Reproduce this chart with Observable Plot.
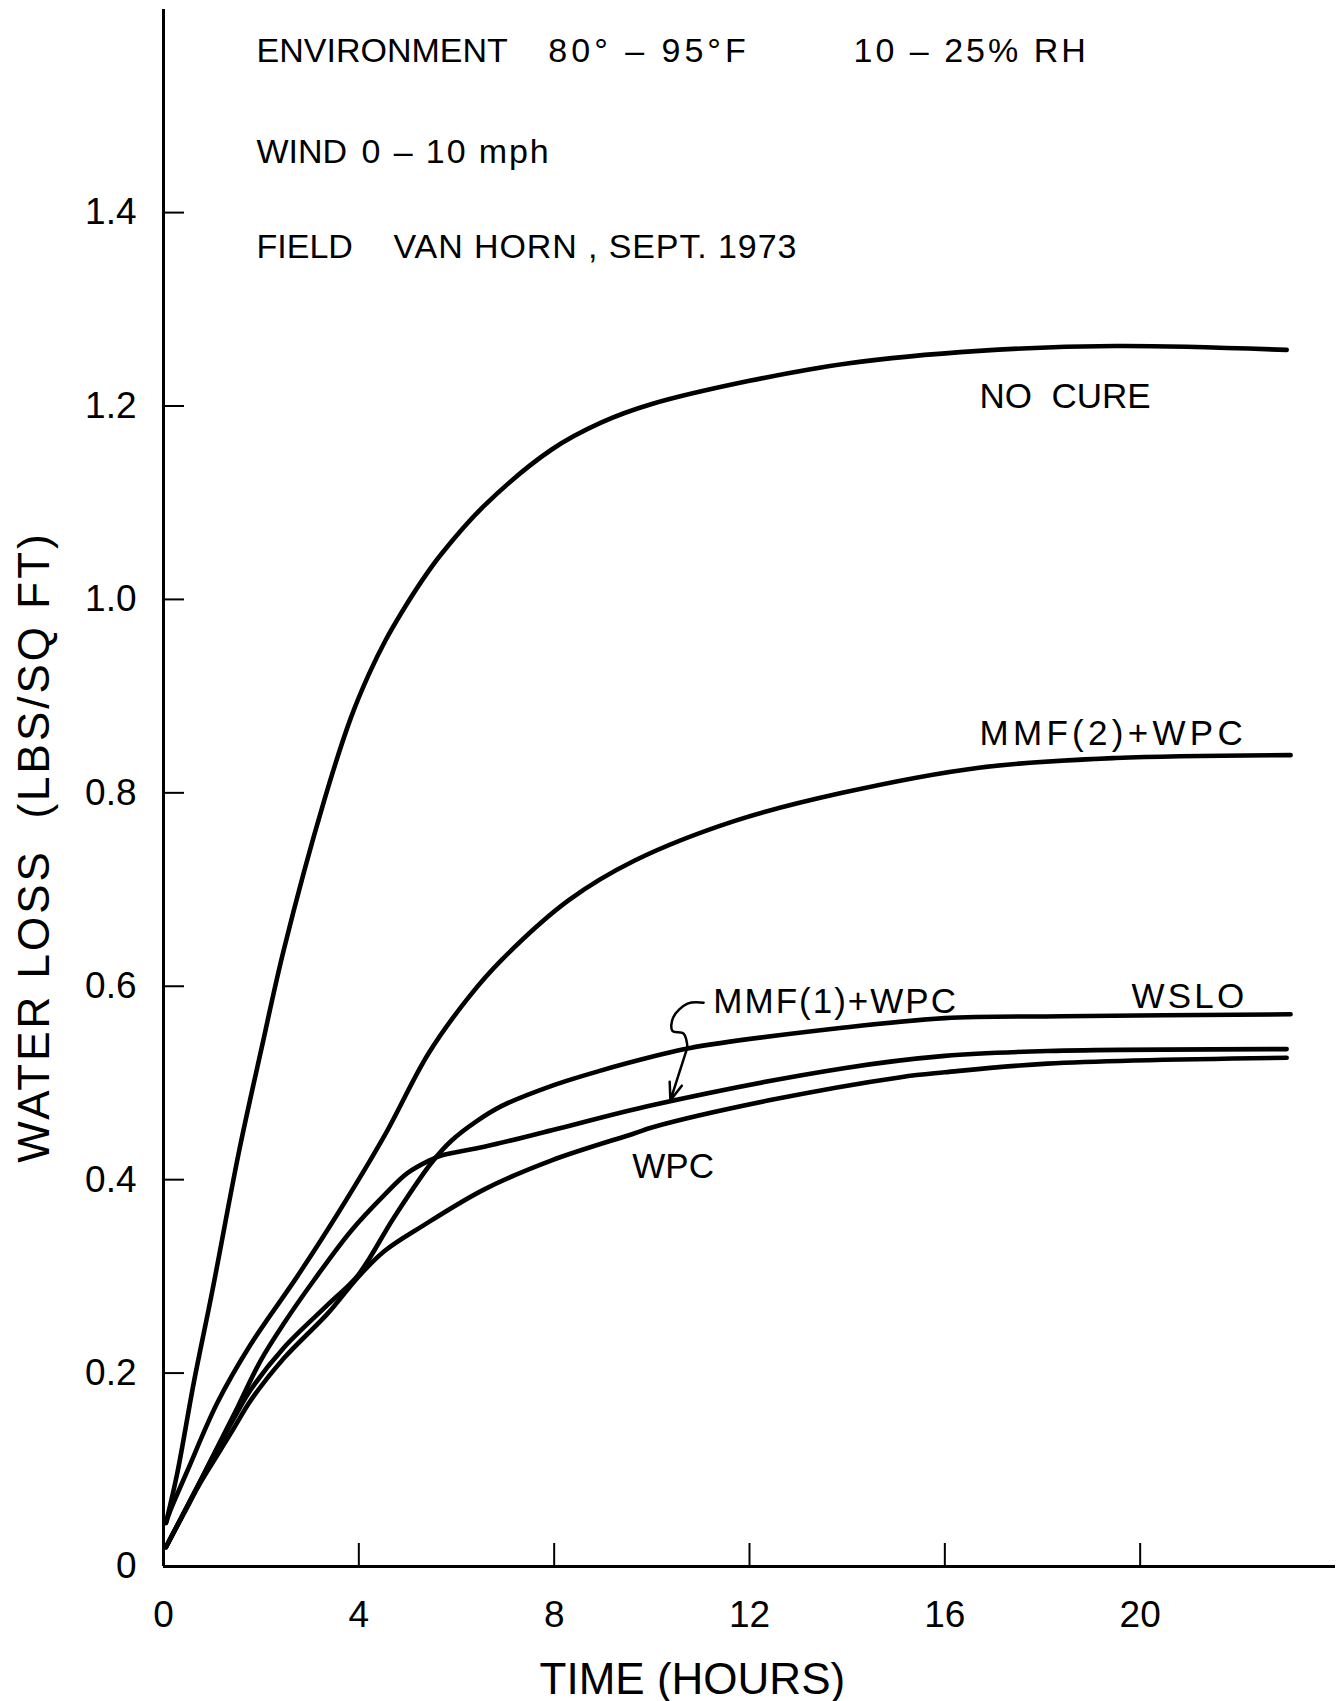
<!DOCTYPE html>
<html>
<head>
<meta charset="utf-8">
<script src="https://cdn.jsdelivr.net/npm/d3@7"></script>
<script src="https://cdn.jsdelivr.net/npm/@observablehq/plot@0.6"></script>
<style>
  html, body { margin: 0; padding: 0; background: #fff; overflow: hidden; }
  #chart svg { display: block; }
</style>
</head>
<body>
<div id="chart"></div>
<script>
// ---------- data ----------
const xTicks = [0, 4, 8, 12, 16, 20];
const yTicks = [0, 0.2, 0.4, 0.6, 0.8, 1.0, 1.2, 1.4];

const seriesNames = ["NO CURE", "MMF(2)+WPC", "MMF(1)+WPC", "WSLO", "WPC"];

const timeNoCure = [0.05, 0.28, 0.62, 1.0, 1.55, 2.0, 2.46, 3.29, 3.84, 4.2, 4.55, 4.87, 5.3, 5.69, 6.57, 7.95, 8.97, 10.0, 12.0, 14.0, 16.7, 19.5, 23.0];
const lossNoCure = [0.045, 0.096, 0.19, 0.285, 0.43, 0.534, 0.637, 0.792, 0.878, 0.922, 0.958, 0.986, 1.02, 1.047, 1.097, 1.155, 1.183, 1.202, 1.226, 1.244, 1.257, 1.262, 1.258];

const timeMMF2 = [0.05, 0.14, 0.49, 1.1, 1.79, 2.74, 3.57, 4.52, 5.42, 6.24, 6.92, 8.3, 9.65, 11.7, 13.9, 16.7, 19.5, 23.08];
const lossMMF2 = [0.045, 0.058, 0.099, 0.169, 0.23, 0.30, 0.365, 0.445, 0.53, 0.588, 0.627, 0.689, 0.73, 0.771, 0.800, 0.826, 0.836, 0.839];

const timeMMF1 = [0.05, 0.41, 0.76, 1.1, 1.52, 1.99, 2.46, 3.08, 3.84, 4.52, 5.0, 5.45, 5.69, 6.57, 7.95, 10.0, 13.9, 16.0, 18.1, 23.0];
const lossMMF1 = [0.02, 0.055, 0.089, 0.123, 0.165, 0.213, 0.251, 0.296, 0.347, 0.384, 0.407, 0.42, 0.425, 0.434, 0.451, 0.477, 0.515, 0.528, 0.533, 0.535];

const timeWSLO = [0.05, 0.41, 0.76, 1.1, 1.44, 1.79, 2.46, 3.37, 3.98, 4.72, 5.48, 5.89, 6.4, 6.92, 7.95, 8.97, 10.0, 10.76, 13.9, 16.0, 18.4, 23.08];
const lossWSLO = [0.02, 0.055, 0.089, 0.122, 0.153, 0.183, 0.226, 0.271, 0.301, 0.361, 0.417, 0.440, 0.46, 0.476, 0.497, 0.513, 0.527, 0.536, 0.557, 0.567, 0.569, 0.571];

const timeWPC = [0.05, 0.41, 0.76, 1.1, 1.44, 1.79, 2.46, 3.37, 3.98, 4.52, 5.3, 6.57, 7.95, 9.65, 10.0, 12.4, 15.1, 16.0, 18.1, 23.0];
const lossWPC = [0.02, 0.054, 0.087, 0.115, 0.143, 0.172, 0.215, 0.262, 0.299, 0.326, 0.352, 0.390, 0.42, 0.448, 0.454, 0.482, 0.506, 0.511, 0.52, 0.526];

// curve labels
const labelText = ["NO  CURE", "MMF(2)+WPC", "MMF(1)+WPC", "WSLO", "WPC"];
const labelTime = [16.71, 16.71, 11.26, 19.82, 9.6];
const labelLoss = [1.1975, 0.849, 0.572, 0.578, 0.402];

// header notes
const noteText = ["ENVIRONMENT", "80° – 95°F", "10 – 25% RH", "WIND", "0 – 10 mph", "FIELD", "VAN HORN , SEPT. 1973"];
const noteTime = [1.905, 7.88, 14.13, 1.905, 4.055, 1.905, 4.71];
const noteLoss = [1.556, 1.556, 1.556, 1.451, 1.451, 1.3526, 1.3526];

// leader from the MMF(1)+WPC label to its curve
const leaderTime = [11.06, 10.73, 10.44, 10.42, 10.65, 10.73];
const leaderLoss = [0.583, 0.582, 0.568, 0.554, 0.551, 0.537];
const arrowTip = {time: 10.38, loss: 0.482};

const xTitle = "TIME (HOURS)";
const yTitle = "WATER LOSS  (LBS/SQ FT)";

// ---------- layout / styling ----------
const W = 1344, H = 1701;
const mL = 163, mR = 9, mT = 9, mB = 135;
const xMax = 24, yMax = 1.61;
const pxPerHour = (W - mL - mR) / xMax;
const pxPerLoss = (H - mT - mB) / yMax;
const xTickLen = 23 / pxPerLoss;   // tick length expressed in y units
const yTickLen = 21 / pxPerHour;   // tick length expressed in x units

const labelTracking = [0, 4.3, 2, 3.3, 0];        // letter-spacing (px) per curve label
const noteTracking = [0, 4, 3, 0, 1.9, 0, 0.9];   // letter-spacing (px) per header note
const yTitleTracking = 3;

const seriesTimes = [timeNoCure, timeMMF2, timeMMF1, timeWSLO, timeWPC];
const seriesLoss = [lossNoCure, lossMMF2, lossMMF1, lossWSLO, lossWPC];
const rows = seriesNames.flatMap((name, i) =>
  seriesTimes[i].map((t, j) => ({series: name, time: t, loss: seriesLoss[i][j]})));

const labels = labelText.map((text, i) => ({text, time: labelTime[i], loss: labelLoss[i]}));
const notes = noteText.map((text, i) => ({text, time: noteTime[i], loss: noteLoss[i]}));
const leader = leaderTime.map((t, i) => ({time: t, loss: leaderLoss[i]}));

const font = "'Liberation Sans', Arial, Helvetica, sans-serif";

const chart = Plot.plot({
  width: W,
  height: H,
  marginLeft: mL,
  marginRight: mR,
  marginTop: mT,
  marginBottom: mB,
  style: {fontFamily: font, fontSize: "37px", color: "black", background: "white", overflow: "visible"},
  x: {domain: [0, xMax], ticks: xTicks, tickSize: 0, tickPadding: 34, label: null},
  y: {domain: [0, yMax], ticks: yTicks, tickSize: 0, tickPadding: 27, label: null,
      tickFormat: d => d === 0 ? "0" : d.toFixed(1)},
  marks: [
    // axis lines
    Plot.ruleX([0], {y1: 0, y2: yMax, stroke: "black", strokeWidth: 3}),
    Plot.ruleY([0], {x1: 0, x2: xMax, stroke: "black", strokeWidth: 3}),
    // inward tick marks
    Plot.ruleX(xTicks.filter(d => d > 0), {x: d => d, y1: 0, y2: xTickLen, stroke: "black", strokeWidth: 2}),
    Plot.ruleY(yTicks.filter(d => d > 0), {y: d => d, x1: 0, x2: yTickLen, stroke: "black", strokeWidth: 2}),
    // curves
    Plot.line(rows, {x: "time", y: "loss", z: "series", stroke: "black", strokeWidth: 4.6,
      curve: "catmull-rom", strokeLinecap: "round", strokeLinejoin: "round"}),
    // leader + arrow
    Plot.line(leader, {x: "time", y: "loss", stroke: "black", strokeWidth: 2.5, curve: "catmull-rom"}),
    Plot.arrow([arrowTip], {x1: () => leaderTime[leaderTime.length - 1], y1: () => leaderLoss[leaderLoss.length - 1],
      x2: "time", y2: "loss", stroke: "black", strokeWidth: 2.5, headLength: 16, headAngle: 40}),
    // curve labels
    Plot.text(labels, {x: "time", y: "loss", text: "text", textAnchor: "start", lineAnchor: "bottom",
      fontSize: 35, fill: "black"}),
    // header notes
    Plot.text(notes, {x: "time", y: "loss", text: "text", textAnchor: "start", lineAnchor: "bottom",
      fontSize: 34, fill: "black"}),
    // axis titles
    Plot.text([xTitle], {x: () => 10.83, frameAnchor: "bottom", dy: 127, lineAnchor: "bottom",
      textAnchor: "middle", text: d => d, fontSize: 44, fill: "black"}),
    Plot.text([yTitle], {y: () => 0.744, frameAnchor: "left", dx: -129, rotate: -90, lineAnchor: "middle",
      textAnchor: "middle", text: d => d, fontSize: 44, fill: "black"})
  ]
});

// letter-spacing for the hand-lettered labels (matched by their text)
const tracking = new Map([
  ...labelText.map((t, i) => [t, labelTracking[i]]),
  ...noteText.map((t, i) => [t, noteTracking[i]]),
  [yTitle, yTitleTracking]
]);
chart.querySelectorAll("text").forEach(el => {
  const ls = tracking.get(el.textContent);
  if (ls) el.setAttribute("letter-spacing", ls);
});

document.getElementById("chart").appendChild(chart);
</script>
</body>
</html>
